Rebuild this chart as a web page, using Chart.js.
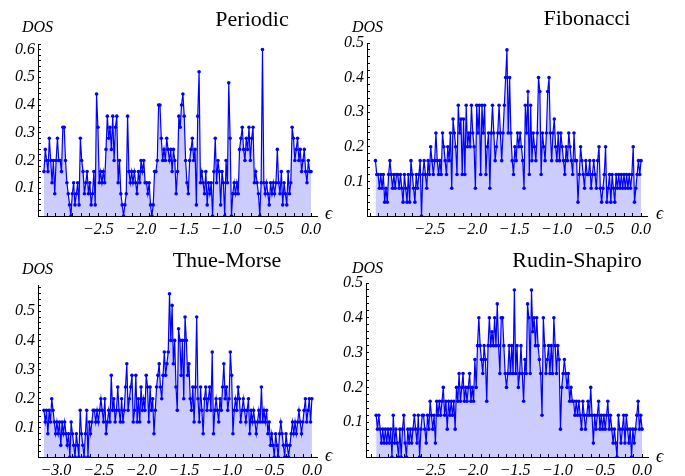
<!DOCTYPE html>
<html>
<head>
<meta charset="utf-8">
<script src="https://cdn.jsdelivr.net/npm/chart.js@4.4.0/dist/chart.umd.min.js"></script>
<style>
  body { margin: 0; background: #fff; }
  #quadro { position: relative; width: 685px; height: 476px; }
  canvas { position: absolute; }
</style>
</head>
<body>
<div id="quadro">
  <canvas id="graficoPeriodic" width="342" height="238" style="left:0;top:0"></canvas>
  <canvas id="graficoFibonacci" width="356" height="238" style="left:329px;top:0"></canvas>
  <canvas id="graficoThueMorse" width="342" height="238" style="left:0;top:238px"></canvas>
  <canvas id="graficoRudinShapiro" width="356" height="238" style="left:329px;top:238px"></canvas>
</div>
<script>
// DOS em unidades de 0.04 (energias igualmente espacadas de eInicio a eFim)
const passoDOS = 0.04;
const eInicio = -3.14;
const eFim = 0;

const dosPeriodic = [
  4,6,5,4, 7,5,3,5, 2,5,7,5, 5,4,8,8,5, 3,2,1,0, 2,3,1,2,3,1, 7,5,4, 2,3,4,2,3, 1,2,4,1,
  11,8, 3,4,3,4,3, 6,9,7,8, 6,9,5,8,9, 3,5, 2,1,0,1,2, 9, 4,3,4,3,4,3,2,4,3, 5,4,5,
  3,3,2,3, 1,0,1,4, 4,5, 10,10,7,5, 6,5,7,6,5,6,
  4,6,5,2,4, 9, 8,10,11,9, 5,3,2, 5,6,7,5,6, 1, 9,13, 3,4,3,2,4,1,3,2,3, 0,4, 7,
  3,5,4,1,4,3,0,5,3, 12, 7,0, 2,3,2,3,2, 6,7,8,6,5,7,6,8,5,7,8, 3,4,3,2, 0,3, 15,
  3,2,3,2,1,3,2,3,2,3, 6,3, 2,4,1,3,2,1,4,2,3, 8,7, 5,6,7,5,6, 4,5,6,4,3,5,4,4
];

const dosFibonacci = [
  4,3, 3,2,3,2,3, 1,2,1,3, 4, 3,2,3,2,3,3,2,3,2, 1,3,2,1,3,1, 4, 3,2,1,3,2,3, 4,0,
  3,4,3,2,4,3, 5,4,3,4, 6, 4,3,4,3, 6, 5,4,3,5,4, 6,2,7, 6,5,3, 8, 6,7,3,7,3, 8,
  5,6,5, 8, 6,5,2, 8, 6,8,3,8,6,8, 3,5,6,2, 6,8,6, 4,5,6,8,
  6,4,6,8,10,12,6, 10,6,4, 3,5,4,6,5, 6,5,4,2, 8,6,9,3,8,4, 6,5,4,6, 10,9,3,
  6,5,4,6,9, 10,6, 4,6,7,5, 4,6,4,6,5, 4,3,5,4, 6,5,4,3,6,4, 4,1,3, 5,4,3,2,4,3,
  3,4,2,3,4,3,2,4, 5, 2,1,2,3, 5, 1,2,3,1,3,2, 1,3,2,3,2,3,2,3,2,3,2,3,2,3,
  5,1,2, 3,4,3,4
];

const dosThueMorse = [
  4,3, 4,2,4, 3,5,4, 3, 2,3,2,3, 1,3,2, 3,2, 1,2,0, 3, 2,1,0,2,1,0, 4, 2,1,0,2,
  4,0,3, 2,3,4, 4,3,4,3,4, 5,4,3,5, 2,3,4,3,7, 4,5,3,4,6, 4,3,5,3,4, 6,8,4,
  5,6,7,3, 4,7,3,5, 3,6,4, 5,4,7,6, 3,6,4,5,2, 4,6, 7,8,6,5,7, 9,7,8,
  9,14,10, 13,8,10, 6,4,11, 10,7,10,5, 12,10,7,8, 5,4,6,3,6, 12,5,3, 6,4,2,
  5,6,4,5,6,4,9, 2,4,5,4,3,5,4,6, 8,5,6,4,5, 9,7,2, 4,5,4,6,5, 3,4,5,4,3,4,5,
  2,4, 3,4,3,2,3,4,3, 6,3,4,3,4, 2,3,1, 2,1,0,2,1,0, 2,3,2,1, 0,2,1,0, 1,2,3,2,
  3,2,3,4,3,2,3,4, 5,3,4,5,3,5
];

const dosRudinShapiro = [
  3,2,3, 2,1,2,1,2,1,2,1,2, 0, 3,1,2, 1,0,2,0,2, 3, 1,0,2,1, 2,1,2,3,2,1,3,0, 2,3,
  3,2,1,3,2, 4, 3,2,3,1, 4,3,4,3, 4,5,3,4,2, 4,3,4,3,4,2, 5,4,6, 4,5, 6,4,5,4,
  5,6,4, 5,4, 7,5,8, 10, 8,7,6,8,7,4, 8,10,8, 9,8, 10,8,11, 8,6,10,
  10,8,6,5, 6,8,6,8,6, 12, 6,8,5,6,8, 6,4,7,6, 11, 10,6, 12, 9,10,8, 10, 8,7,6, 3,
  10,8,6,7,8,6, 8,6,10, 8,6,8,7,2, 5,6,7,6,5, 6,4,5,4, 4,3,4,3,4,3,2, 4, 3,2,3,4,3,
  5,3,1, 3,2,3,4,2,3, 2,3,2,3,4, 2,3,2,1,2,1, 0, 3, 2,1,2,3,1, 3, 2,1,2, 0, 2,1,2, 3,
  4,2,3,2
];

// rotulos do eixo x de cada painel
const rotulosPeriodic = [-2.5, -2.0, -1.5, -1.0, -0.5, 0.0];
const rotulosFibonacci = [-2.5, -2.0, -1.5, -1.0, -0.5, 0.0];
const rotulosThueMorse = [-3.0, -2.5, -2.0, -1.5, -1.0, -0.5, 0.0];
const rotulosRudinShapiro = [-2.5, -2.0, -1.5, -1.0, -0.5, 0.0];

function montarPontos(contagens) {
  const n = contagens.length;
  return contagens.map((c, i) => ({
    x: eInicio + (eFim - eInicio) * i / (n - 1),
    y: c * passoDOS
  }));
}

function formatar(v) {
  return v.toFixed(1).replace('-', '\u2212');
}

const fonteSerif = '"Liberation Serif", "DejaVu Serif", serif';

function textosPainel(t) {
  return {
    id: 'textosPainel',
    afterDraw(chart) {
      const ctx = chart.ctx;
      ctx.save();
      ctx.fillStyle = '#000';
      ctx.textBaseline = 'alphabetic';
      ctx.font = '22px ' + fonteSerif;
      ctx.textAlign = 'center';
      ctx.fillText(t.titulo, t.tituloX, t.tituloY);
      ctx.textAlign = 'left';
      ctx.font = 'italic 16px ' + fonteSerif;
      ctx.fillText('DOS', t.dosX, t.dosY);
      ctx.font = 'italic 18px ' + fonteSerif;
      ctx.fillText('\u03f5', t.epsX, t.epsY);
      ctx.restore();
    }
  };
}

function criarGrafico(id, contagens, rotulos, cfg) {
  const ctx = document.getElementById(id).getContext('2d');
  new Chart(ctx, {
    type: 'scatter',
    data: {
      datasets: [{
        data: montarPontos(contagens),
        showLine: true,
        borderColor: '#0000ff',
        borderWidth: 1.2,
        backgroundColor: 'rgba(0, 0, 255, 0.2)',
        fill: 'origin',
        pointRadius: 1.8,
        pointBorderWidth: 0,
        pointBackgroundColor: '#0000ff',
        tension: 0
      }]
    },
    options: {
      responsive: false,
      animation: false,
      layout: { padding: { left: 0, top: cfg.topo, right: cfg.direita, bottom: 0 } },
      plugins: {
        legend: { display: false },
        tooltip: { enabled: false }
      },
      scales: {
        x: {
          type: 'linear',
          min: cfg.xMin,
          max: cfg.xMax,
          border: { display: true, color: '#000', width: 1 },
          grid: { drawOnChartArea: false, tickLength: -3, tickColor: '#000' },
          ticks: {
            autoSkip: false,
            maxRotation: 0,
            padding: 7,
            color: '#000',
            font: { family: fonteSerif, size: 16, style: 'italic' },
            callback: (v) => rotulos.some(r => Math.abs(r - v) < 1e-6) ? formatar(v) : ''
          },
          afterBuildTicks: (escala) => {
            const marcas = [];
            for (let k = -32; k <= 0; k++) {
              if (k / 10 >= cfg.xMin) marcas.push({ value: k / 10 });
            }
            escala.ticks = marcas;
          },
          afterFit: (escala) => {
            escala.height = cfg.alturaX;
            escala.paddingLeft = 0; escala.paddingRight = 0;
            escala.paddingTop = 0; escala.paddingBottom = 0;
          }
        },
        y: {
          min: 0,
          max: cfg.yMax,
          border: { display: true, color: '#000', width: 1 },
          grid: { drawOnChartArea: false, tickLength: -3, tickColor: '#000' },
          ticks: {
            autoSkip: false,
            padding: 6,
            color: '#000',
            font: { family: fonteSerif, size: 16, style: 'italic' },
            callback: (v) => (v > 0 && Math.abs(v * 10 - Math.round(v * 10)) < 1e-6) ? v.toFixed(1) : ''
          },
          afterBuildTicks: (escala) => {
            const marcas = [];
            for (let k = 1; k * 0.02 <= cfg.yMax + 1e-9; k++) {
              marcas.push({ value: +(k * 0.02).toFixed(2) });
            }
            escala.ticks = marcas;
          },
          afterFit: (escala) => {
            escala.width = cfg.larguraY;
            escala.paddingLeft = 0; escala.paddingRight = 0;
            escala.paddingTop = 0; escala.paddingBottom = 0;
          }
        }
      }
    },
    plugins: [textosPainel(cfg.textos)]
  });
}

criarGrafico('graficoPeriodic', dosPeriodic, rotulosPeriodic, {
  xMin: -3.21, xMax: 0.07, yMax: 0.62,
  topo: 44, direita: 25, larguraY: 38, alturaX: 22,
  textos: { titulo: 'Periodic', tituloX: 252, tituloY: 26, dosX: 22, dosY: 32, epsX: 325, epsY: 219 }
});

criarGrafico('graficoFibonacci', dosFibonacci, rotulosFibonacci, {
  xMin: -3.24, xMax: 0.07, yMax: 0.5,
  topo: 43, direita: 38, larguraY: 38, alturaX: 22,
  textos: { titulo: 'Fibonacci', tituloX: 258, tituloY: 25, dosX: 23, dosY: 32, epsX: 327, epsY: 219 }
});

criarGrafico('graficoThueMorse', dosThueMorse, rotulosThueMorse, {
  xMin: -3.21, xMax: 0.06, yMax: 0.59,
  topo: 47, direita: 25, larguraY: 38, alturaX: 19,
  textos: { titulo: 'Thue-Morse', tituloX: 227, tituloY: 29, dosX: 22, dosY: 36, epsX: 325, epsY: 223 }
});

criarGrafico('graficoRudinShapiro', dosRudinShapiro, rotulosRudinShapiro, {
  xMin: -3.26, xMax: 0.07, yMax: 0.5,
  topo: 45, direita: 37, larguraY: 37, alturaX: 19,
  textos: { titulo: 'Rudin-Shapiro', tituloX: 248, tituloY: 29, dosX: 23, dosY: 35, epsX: 327, epsY: 224 }
});
</script>
</body>
</html>
